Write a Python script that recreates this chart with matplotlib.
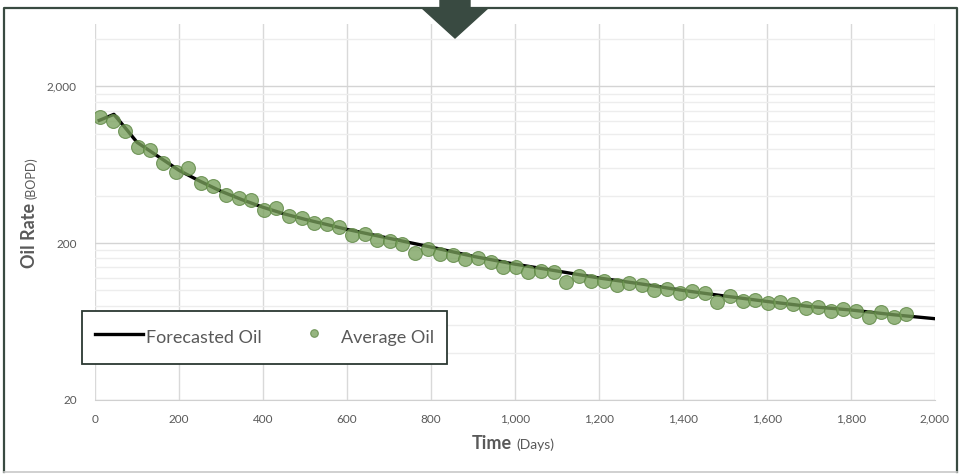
# Librairies externes
import matplotlib.pyplot as plt
from matplotlib.lines import Line2D
from matplotlib.patches import Polygon
from matplotlib.ticker import FixedLocator, NullFormatter

# Dimensions de la figure (pixels)
__LARGEUR = 961
__HAUTEUR = 474

# Débit moyen mesuré (points)
JOURS_MOYENNE = [12, 42, 72, 102, 132, 162, 192, 222, 252, 282,
                 312, 342, 372, 402, 432, 462, 492, 522, 552, 582,
                 612, 642, 672, 702, 732, 762, 792, 822, 852, 882,
                 912, 942, 972, 1002, 1032, 1062, 1092, 1122, 1152, 1182,
                 1212, 1242, 1272, 1302, 1332, 1362, 1392, 1422, 1452, 1482,
                 1512, 1542, 1572, 1602, 1632, 1662, 1692, 1722, 1752, 1782,
                 1812, 1842, 1872, 1902, 1932]
DEBIT_MOYEN = [1270, 1198, 1034, 818, 783, 647, 567, 601, 482, 462,
               404, 387, 376, 325, 334, 297, 289, 268, 264, 253,
               225, 228, 209, 206, 197, 173, 183, 170, 169, 158,
               160, 151, 141, 141, 131, 133, 131, 113, 123, 115,
               115, 108, 111, 108, 100, 102, 96, 99, 96, 84,
               92, 85, 87, 83, 84, 82, 77, 78, 74, 76,
               74, 68, 73, 68, 71]

# Débit prévu (courbe)
JOURS_PREVISION = [10, 45, 75, 100, 150, 200, 250, 300, 350, 400, 450, 500,
                   600, 700, 800, 900, 1000, 1100, 1200, 1300, 1400, 1500,
                   1600, 1700, 1800, 1900, 2000]
DEBIT_PREVU = [1214, 1327, 1064, 880, 716, 583, 497, 429, 379, 339, 308, 284,
               245, 215, 189, 165, 147, 133, 120, 110, 100, 92,
               85, 79, 75, 70, 66]

# Graduations
GRADUATIONS_X = [0, 200, 400, 600, 800, 1000, 1200, 1400, 1600, 1800, 2000]
ETIQUETTES_X = ['0', '200', '400', '600', '800', '1,000', '1,200', '1,400',
                '1,600', '1,800', '2,000']
GRADUATIONS_Y = [20, 200, 2000]
ETIQUETTES_Y = ['20', '200', '2,000']
GRADUATIONS_Y_MINEURES = [40, 60, 80, 100, 120, 140, 160, 180,
                          400, 600, 800, 1000, 1200, 1400, 1600, 1800, 4000]

# Couleurs
__GRIS_TEXTE = '#595959'
__VERT_POINT = '#79a05c'
__VERT_BORD = '#5c8642'
__VERT_FONCE = '#394a41'


def px(x, y):
    """Convertit des pixels (origine en haut à gauche) en fraction de figure."""
    return x / __LARGEUR, 1 - y / __HAUTEUR


plt.rcParams['font.family'] = ['Lato', 'DejaVu Sans']

# Créer la figure et les axes
fig = plt.figure(figsize=(__LARGEUR / 100, __HAUTEUR / 100), dpi=100)
gauche, bas = px(95, 400)
ax = fig.add_axes([gauche, bas, 840 / __LARGEUR, 376 / __HAUTEUR])

# Tracer la prévision et les moyennes
ligne, = ax.plot(JOURS_PREVISION, DEBIT_PREVU, color='black', lw=2.4,
                 zorder=3, label='Forecasted Oil')
points = ax.scatter(JOURS_MOYENNE, DEBIT_MOYEN, s=100, color=__VERT_POINT,
                    alpha=0.78, edgecolors=__VERT_BORD, linewidths=0.8,
                    zorder=4, label='Average Oil')

# Échelles
ax.set_yscale('log')
ax.set_xlim(0, 2000)
ax.set_ylim(20, 5000)

ax.set_xticks(GRADUATIONS_X)
ax.set_xticklabels(ETIQUETTES_X)
ax.set_yticks(GRADUATIONS_Y)
ax.set_yticklabels(ETIQUETTES_Y)
ax.yaxis.set_minor_locator(FixedLocator(GRADUATIONS_Y_MINEURES))
ax.yaxis.set_minor_formatter(NullFormatter())
ax.tick_params(which='both', length=0, colors=__GRIS_TEXTE, labelsize=8.5)
ax.tick_params(axis='x', pad=10)
ax.tick_params(axis='y', pad=13)

# Grille
ax.grid(True, which='major', axis='x', color='#d9d9d9', lw=1)
ax.grid(True, which='major', axis='y', color='#d4d4d4', lw=1)
ax.grid(True, which='minor', axis='y', color='#ededed', lw=1)
ax.set_axisbelow(True)

for cote in ['left', 'right', 'top']:
    ax.spines[cote].set_visible(False)
ax.spines['bottom'].set_color('#d0d0d0')

# Titres des axes
x, y = px(35, 203)
fig.text(x, y, 'Oil Rate', rotation=90, rotation_mode='anchor', ha='right',
         va='baseline', fontsize=13, fontweight='bold', color=__GRIS_TEXTE)
x, y = px(35, 199)
fig.text(x, y, '(BOPD)', rotation=90, rotation_mode='anchor', ha='left',
         va='baseline', fontsize=9, color=__GRIS_TEXTE)

x, y = px(512, 449)
fig.text(x, y, 'Time', ha='right', va='baseline', fontsize=13,
         fontweight='bold', color=__GRIS_TEXTE)
x, y = px(516, 449)
fig.text(x, y, '(Days)', ha='left', va='baseline', fontsize=10,
         color=__GRIS_TEXTE)

# Légende
leg = fig.legend(handles=[ligne, points], loc='upper left',
                 bbox_to_anchor=px(82, 311), ncol=2, fontsize=13,
                 frameon=True, fancybox=False, edgecolor='#2b3832',
                 framealpha=1, borderpad=0.72, handlelength=2.65,
                 handleheight=1.9, handletextpad=0.17, columnspacing=1.55,
                 markerscale=0.55, scatterpoints=1, labelcolor=__GRIS_TEXTE,
                 borderaxespad=0)
leg.get_frame().set_linewidth(1.3)

# Cadre autour de la figure
x0, y0 = px(4, 8)
x1, y1 = px(957, 472)
fig.add_artist(Line2D([x0, x0, x1, x1], [y1, y0, y0, y1],
                      transform=fig.transFigure, color=__VERT_FONCE, lw=1.6))
fig.add_artist(Line2D([x0, x1], [y1, y1], transform=fig.transFigure,
                      color='#c8c8c8', lw=1.2))

# Flèche en haut
sommets = [px(440, 0), px(470, 0), px(470, 8), px(488, 8), px(455, 38),
           px(422, 8), px(440, 8)]
fig.add_artist(Polygon(sommets, closed=True, transform=fig.transFigure,
                       facecolor=__VERT_FONCE, edgecolor=__VERT_FONCE))

fig.savefig('out.png', dpi=100)
